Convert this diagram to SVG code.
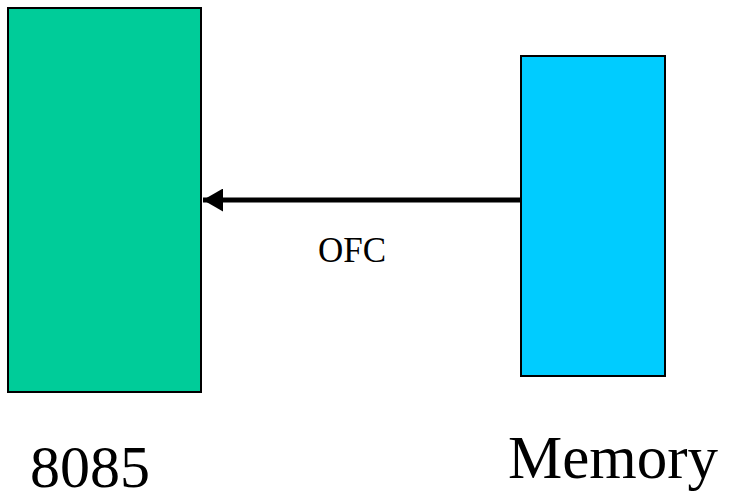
<svg xmlns="http://www.w3.org/2000/svg" width="730" height="500" viewBox="0 0 730 500">
<style>
.box{stroke:#000;stroke-width:2}
.lbl{font-family:"Liberation Serif","Times New Roman",serif;fill:#000}
</style>
<defs>
<marker id="ah" markerWidth="4" markerHeight="4.6" refX="4" refY="2.3" orient="auto" markerUnits="strokeWidth">
<path d="M0,0 L4,2.3 L0,4.6 Z" fill="#000"/>
</marker>
</defs>
<rect width="730" height="500" fill="#fff"/>
<g id="cpu">
<rect class="box" x="8" y="8" width="193" height="384" fill="#00CC99"/>
<text class="lbl" x="30" y="487" font-size="60">8085</text>
</g>
<g id="memory">
<rect class="box" x="521" y="56" width="144" height="320" fill="#00CCFF"/>
<text class="lbl" x="508" y="478" font-size="61">Memory</text>
</g>
<g id="connectors">
<line x1="520" y1="200" x2="203" y2="200" stroke="#000" stroke-width="5" marker-end="url(#ah)"/>
<text class="lbl" x="318" y="262" font-size="35">OFC</text>
</g>
</svg>
